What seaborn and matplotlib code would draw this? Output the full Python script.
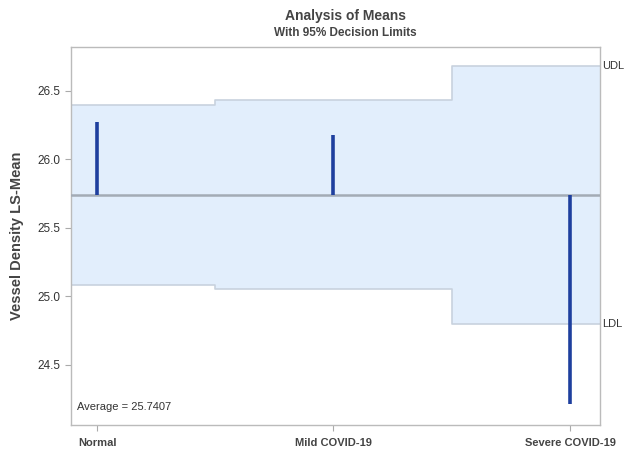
import numpy as np
import pandas as pd
import matplotlib
matplotlib.use("Agg")
import matplotlib.pyplot as plt
import seaborn as sns

# Data
categories = ["Normal", "Mild COVID-19", "Severe COVID-19"]
ls_means = [26.27, 26.175, 24.215]
udl = [26.398, 26.43, 26.68]
ldl = [25.083, 25.05, 24.80]
average = 25.7407
yticks = [24.5, 25.0, 25.5, 26.0, 26.5]

sns.set_theme(style="white")
plt.rcParams['font.family'] = ['Liberation Sans', 'DejaVu Sans']

fig = plt.figure(figsize=(6.24, 4.53), dpi=100)
ax = fig.add_axes([0.1138, 0.0618, 0.8477, 0.8344])

xmin, xmax = -0.11, 2.127
ymin, ymax = 24.06, 26.82
pos = np.arange(len(categories))

# Decision limit band (step)
edges = [xmin] + list(pos[:-1] + 0.5) + [xmax]
up = list(udl) + [udl[-1]]
lo = list(ldl) + [ldl[-1]]
ax.fill_between(edges, lo, up, step="post", color="#E2EEFC", zorder=1, linewidth=0)
ax.step(edges, up, where="post", color="#C8D2DE", lw=1.2, zorder=2)
ax.step(edges, lo, where="post", color="#C8D2DE", lw=1.2, zorder=2)

# Average line
df_avg = pd.DataFrame({"x": [xmin, xmax], "y": [average, average]})
sns.lineplot(data=df_avg, x="x", y="y", ax=ax, color="#A3ABB5", lw=1.8, zorder=3)

# Mean spikes
ax.vlines(pos, [average] * len(pos), ls_means, color="#1E3F9E", lw=2.6, zorder=4)

ax.set_xlim(xmin, xmax)
ax.set_ylim(ymin, ymax)
ax.set_xticks(pos)
ax.set_xticklabels(categories, fontsize=8, fontweight="bold", color="#444444")
ax.set_yticks(yticks)
ax.set_yticklabels([f"{v:.1f}" for v in yticks], fontsize=8.5, color="#333333")
ax.tick_params(axis="both", which="both", length=4, width=0.8, color="#AAAAAA",
               direction="out", bottom=True, left=True)
ax.tick_params(axis="x", pad=5)
ax.set_xlabel("")
ax.set_ylabel("Vessel Density LS-Mean", fontsize=10.5, fontweight="bold", color="#444444", labelpad=10)

for s in ax.spines.values():
    s.set_color("#BBBBBB")
    s.set_linewidth(1.0)

ax.text(0.012, 0.035, f"Average = {average}", transform=ax.transAxes,
        fontsize=8, color="#333333", ha="left", va="bottom")

ax.text(1.004, udl[-1], "UDL", transform=ax.get_yaxis_transform(), fontsize=8,
        color="#333333", ha="left", va="center", clip_on=False)
ax.text(1.004, ldl[-1], "LDL", transform=ax.get_yaxis_transform(), fontsize=8,
        color="#333333", ha="left", va="center", clip_on=False)

fig.text(0.5535, 0.965, "Analysis of Means", ha="center", va="center",
         fontsize=10, fontweight="bold", color="#444444")
fig.text(0.5535, 0.927, "With 95% Decision Limits", ha="center", va="center",
         fontsize=8.5, fontweight="bold", color="#444444")

fig.savefig("out.png", dpi=100)
